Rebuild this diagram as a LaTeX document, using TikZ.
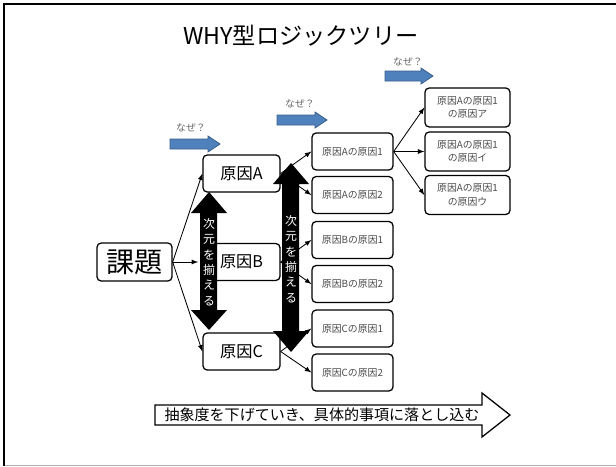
\documentclass[tikz,border=0pt]{standalone}
\usepackage{fontspec}
\setmainfont{Noto Sans CJK JP}
\usetikzlibrary{shapes,arrows,positioning}
\definecolor{whyblue}{RGB}{79,129,189}
\definecolor{whyblueline}{RGB}{56,93,138}

\begin{document}
\begin{tikzpicture}[x=0.025cm,y=-0.025cm,
  box/.style={draw,rounded corners=3pt,line width=0.9pt,inner sep=0pt,fill=white},
  genbox/.style={box,minimum width=1.925cm,minimum height=0.925cm,font=\fontsize{11.5}{13}\selectfont},
  subbox/.style={box,minimum width=2.025cm,minimum height=0.925cm,font=\fontsize{7}{9}\selectfont,text=black!70},
  leafbox/.style={box,minimum width=2.125cm,minimum height=0.975cm,align=center,font=\fontsize{7}{9.5}\selectfont,text=black!70},
  conn/.style={-latex,line width=0.6pt},
  dimarrow/.style={fill=black},
  dimtext/.style={text=white,align=center,font=\fontsize{8.5}{11}\selectfont},
  whyarrow/.style={fill=whyblue,draw=whyblueline,line width=0.5pt},
  whytext/.style={text=black!60,font=\fontsize{7}{8}\selectfont}]
\useasboundingbox (0,0) rectangle (616,466);

% frame
\draw[black!30,line width=0.6pt] (4,465) -- (616,465);
\draw[line width=1.6pt] (4,466) -- (4,4) -- (616,4);

% title
\node (title) at (301,36) {\fontsize{16.5}{20}\selectfont WHY型ロジックツリー};

% tree
\node[box,minimum width=1.875cm,minimum height=0.95cm,font=\fontsize{20}{22}\selectfont] (kadai) at (134.5,262) {課題};
\node[genbox] (genA) at (241.5,173.5) {原因A};
\node[genbox] (genB) at (241.5,262) {原因B};
\node[genbox] (genC) at (241.5,351.5) {原因C};

\node[subbox] (subA1) at (352.5,151.5) {原因Aの原因1};
\node[subbox] (subA2) at (352.5,195) {原因Aの原因2};
\node[subbox] (subB1) at (352.5,240) {原因Bの原因1};
\node[subbox] (subB2) at (352.5,284) {原因Bの原因2};
\node[subbox] (subC1) at (352.5,328.5) {原因Cの原因1};
\node[subbox] (subC2) at (352.5,372.5) {原因Cの原因2};

\node[leafbox] (leafA) at (467.5,107.5) {原因Aの原因1\\の原因ア};
\node[leafbox] (leafB) at (467.5,151.5) {原因Aの原因1\\の原因イ};
\node[leafbox] (leafC) at (467.5,195) {原因Aの原因1\\の原因ウ};

% connectors
\draw[conn] (kadai.east) -- (genA.west);
\draw[conn,shorten >=3pt] (kadai.east) -- (genB.west);
\draw[conn] (kadai.east) -- (genC.west);
\draw[conn] (genA.east) -- (subA1.west);
\draw[conn] (genA.east) -- (subA2.west);
\draw[conn] (genB.east) -- (subB1.west);
\draw[conn] (genB.east) -- (subB2.west);
\draw[conn] (genC.east) -- (subC1.west);
\draw[conn] (genC.east) -- (subC2.west);
\draw[conn] (subA1.east) -- (leafA.west);
\draw[conn] (subA1.east) -- (leafB.west);
\draw[conn] (subA1.east) -- (leafC.west);

% dimension arrows
\fill[dimarrow] (209,192) -- (227,213) -- (217,213) -- (217,310) -- (227,310) -- (209,330)
  -- (191,310) -- (200,310) -- (200,213) -- (191,213) -- cycle;
\node[dimtext] (dim1) at (209,262) {次\\元\\を\\揃\\え\\る};
\fill[dimarrow] (291,163) -- (309,184) -- (299,184) -- (299,331) -- (309,331) -- (291,352)
  -- (273,331) -- (282,331) -- (282,184) -- (273,184) -- cycle;
\node[dimtext] (dim2) at (291,259) {次\\元\\を\\揃\\え\\る};

% why arrows
\draw[whyarrow] (170,139) -- (208,139) -- (208,136) -- (220,144) -- (208,152) -- (208,149) -- (170,149) -- cycle;
\node[whytext] (why1) at (191,128) {なぜ？};
\draw[whyarrow] (277,115) -- (315,115) -- (315,112) -- (327,120) -- (315,128) -- (315,125) -- (277,125) -- cycle;
\node[whytext] (why2) at (300,104) {なぜ？};
\draw[whyarrow] (385,71) -- (421,71) -- (421,68) -- (433,76) -- (421,84) -- (421,81) -- (385,81) -- cycle;
\node[whytext] (why3) at (408,62) {なぜ？};

% bottom arrow
\draw[line width=0.9pt,fill=white] (155,405) -- (482,405) -- (482,393) -- (510,415) -- (482,437)
  -- (482,425) -- (155,425) -- cycle;
\node[font=\fontsize{10.7}{12}\selectfont] (abstr) at (322,415) {抽象度を下げていき、具体的事項に落とし込む};
\end{tikzpicture}
\end{document}
